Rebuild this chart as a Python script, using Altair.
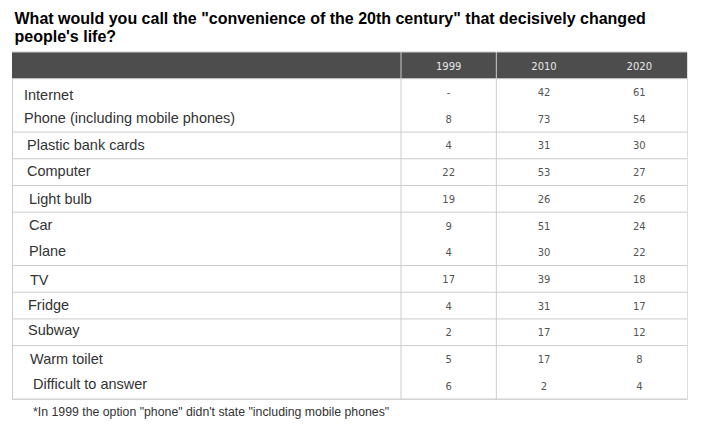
import altair as alt
import pandas as pd

# ---------------- data ----------------
title_lines = [
    'What would you call the "convenience of the 20th century" that decisively changed',
    "people's life?",
]
years = ["1999", "2010", "2020"]
items = [
    "Internet",
    "Phone (including mobile phones)",
    "Plastic bank cards",
    "Computer",
    "Light bulb",
    "Car",
    "Plane",
    "TV",
    "Fridge",
    "Subway",
    "Warm toilet",
    "Difficult to answer",
]
v1999 = ["-", "8", "4", "22", "19", "9", "4", "17", "4", "2", "5", "6"]
v2010 = ["42", "73", "31", "53", "26", "51", "30", "39", "31", "17", "17", "2"]
v2020 = ["61", "54", "30", "27", "26", "24", "22", "18", "17", "12", "8", "4"]
groups = [1, 1, 2, 3, 4, 5, 5, 6, 7, 8, 9, 9]
footnote = '*In 1999 the option "phone" didn\'t state "including mobile phones"'

# ---------------- layout (not data) ----------------
W, H = 675, 347
label_indent = [12, 12, 15, 15, 17, 17, 17, 18, 16, 16, 18, 21]
label_dy = [4, 0, 1, 0, 1, 0, 0, 2, 0, -1, 1, -1]
n_units = len(items) + 1
line_col = "#cccccc"

# ---------------- tables ----------------
labels_df = pd.DataFrame({
    "item": items,
    "yc": [i + 1.5 for i in range(len(items))],
    "indent": label_indent,
    "ldy": label_dy,
})
labels_df["yl"] = labels_df["yc"] + labels_df["ldy"] / (H / n_units)

vals = []
for y, col in zip(years, [v1999, v2010, v2020]):
    for i, v in enumerate(col):
        vals.append({"year": y, "value": v, "yc": i + 1.5})
vals_df = pd.DataFrame(vals)

header_df = pd.DataFrame({"year": years, "yc": [0.5] * len(years)})

bounds = [0, 1]
for i in range(len(items)):
    if i == len(items) - 1 or groups[i] != groups[i + 1]:
        bounds.append(i + 2)
hlines_df = pd.DataFrame({"yb": bounds})

vlines_df = pd.DataFrame({"year": years[:2], "y0": [0, 0], "y1": [n_units, n_units]})
left_df = pd.DataFrame({"y0": [1], "y1": [n_units]})
head_rect_df = pd.DataFrame({"y0": [0], "y1": [1]})
foot_df = pd.DataFrame({"text": [footnote], "yc": [n_units + 0.5], "fx": [21]})

yscale = alt.Scale(domain=[0, n_units], reverse=True, nice=False, zero=False)
xband = alt.Scale(domain=years, range=[389, W], paddingInner=0, paddingOuter=0)

header_rect = alt.Chart(head_rect_df).mark_rect(color="#4d4d4d").encode(
    x=alt.value(0), x2=alt.value(W),
    y=alt.Y("y0:Q", scale=yscale, axis=None), y2="y1:Q",
)

hlines = alt.Chart(hlines_df).mark_rule(color=line_col, strokeWidth=1).encode(
    x=alt.value(0), x2=alt.value(W),
    y=alt.Y("yb:Q", scale=yscale, axis=None),
)

vlines = alt.Chart(vlines_df).mark_rule(color=line_col, strokeWidth=1).encode(
    x=alt.X("year:N", scale=xband, axis=None, bandPosition=0),
    y=alt.Y("y0:Q", scale=yscale, axis=None), y2="y1:Q",
)

left_line = alt.Chart(left_df).mark_rule(color=line_col, strokeWidth=1).encode(
    x=alt.value(0.5),
    y=alt.Y("y0:Q", scale=yscale, axis=None), y2="y1:Q",
)

header_text = alt.Chart(header_df).mark_text(
    font="DejaVu Sans", fontSize=10, color="#e8e8e8", baseline="middle", dy=2
).encode(
    x=alt.X("year:N", scale=xband, axis=None),
    y=alt.Y("yc:Q", scale=yscale, axis=None),
    text="year:N",
)

value_text = alt.Chart(vals_df).mark_text(
    font="DejaVu Sans", fontSize=10, color="#555555", baseline="middle", dy=1
).encode(
    x=alt.X("year:N", scale=xband, axis=None),
    y=alt.Y("yc:Q", scale=yscale, axis=None),
    text="value:N",
)

label_text = alt.Chart(labels_df).mark_text(
    font="Liberation Sans", fontSize=14.5, color="#333333", align="left", baseline="middle"
).encode(
    x=alt.X("indent:Q", scale=None, axis=None),
    y=alt.Y("yl:Q", scale=yscale, axis=None),
    text="item:N",
)

foot_text = alt.Chart(foot_df).mark_text(
    font="Liberation Sans", fontSize=12.3, color="#333333", align="left", baseline="middle"
).encode(
    x=alt.X("fx:Q", scale=None, axis=None),
    y=alt.Y("yc:Q", scale=yscale, axis=None),
    text="text:N",
)

chart = alt.layer(
    header_rect, hlines, vlines, left_line, header_text, value_text, label_text, foot_text
).resolve_scale(x="independent").properties(
    width=W,
    height=H,
    autosize=alt.AutoSizeParams(type="none"),
    padding={"left": 4, "top": 44, "right": 16, "bottom": 22},
    title=alt.TitleParams(
        text=title_lines,
        anchor="start",
        font="Liberation Sans",
        fontSize=16,
        fontWeight="bold",
        color="#000000",
        lineHeight=18,
        offset=7,
        dx=3,
    ),
).configure_view(stroke=None).configure(background="white")

chart.save("out.html", embed_options={"renderer": "svg", "actions": False})
